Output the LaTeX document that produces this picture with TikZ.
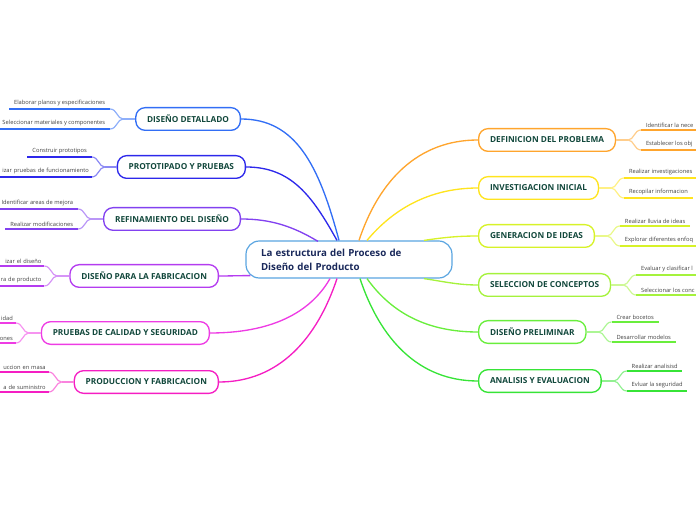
\documentclass[tikz,border=0pt]{standalone}
\usepackage{fontspec}
\setmainfont{Open Sans}
\usepackage{tikz}
\usetikzlibrary{calc}
\definecolor{cborde}{RGB}{90,165,225}
\definecolor{ctexto}{RGB}{18,72,60}
\definecolor{ccentro}{RGB}{25,40,90}
\definecolor{cnaranja}{RGB}{255,165,45}
\definecolor{camarillo}{RGB}{255,228,30}
\definecolor{clima}{RGB}{215,242,40}
\definecolor{cverdea}{RGB}{165,242,60}
\definecolor{cverdeb}{RGB}{105,238,60}
\definecolor{cverdec}{RGB}{55,228,55}
\definecolor{cazul}{RGB}{50,110,245}
\definecolor{cindigo}{RGB}{45,40,235}
\definecolor{cvioleta}{RGB}{130,65,240}
\definecolor{cmorado}{RGB}{180,60,240}
\definecolor{cmagenta}{RGB}{238,60,228}
\definecolor{crosa}{RGB}{245,30,195}

\begin{document}
\begin{tikzpicture}[x=0.75pt,y=-0.75pt,
  centro/.style={draw=cborde,line width=0.9pt,rounded corners=10pt,fill=white,
    minimum height=27.75pt,inner xsep=11.25pt,text width=132pt,align=left,
    font=\bfseries\fontsize{7.3}{10.5}\selectfont,text=ccentro},
  tema/.style={draw=#1,line width=1pt,rounded corners=7pt,fill=white,
    minimum height=17pt,inner xsep=8.5pt,
    font=\bfseries\fontsize{6.2}{7.5}\selectfont,text=ctexto},
  sub/.style={inner xsep=3.5pt,inner ysep=1.9pt,
    font=\fontsize{4.3}{5.2}\selectfont,text=black!75},
  corte/.style={sub,inner xsep=2pt,text width=80pt,align=right},
  rama/.style={draw=#1,line width=1pt},
  tallo/.style={draw=#1!55,line width=0.9pt},
  raya/.style={draw=#1,line width=1.4pt}]
  \useasboundingbox (0,0) rectangle (696,520);

  % central topic
  \node[centro] (ctr) at (349,259.5) {La estructura del Proceso de\\Diseño del Producto};

  % right topics
  \node[tema=cnaranja,anchor=west] (def) at (478,140) {DEFINICION DEL PROBLEMA};
  \node[tema=camarillo,anchor=west] (inv) at (478,188) {INVESTIGACION INICIAL};
  \node[tema=clima,anchor=west] (gen) at (478,236) {GENERACION DE IDEAS};
  \node[tema=cverdea,anchor=west] (sel) at (478,285) {SELECCION DE CONCEPTOS};
  \node[tema=cverdeb,anchor=west] (pre) at (478,332) {DISEÑO PRELIMINAR};
  \node[tema=cverdec,anchor=west] (ana) at (478,381) {ANALISIS Y EVALUACION};

  % left topics
  \node[tema=cazul,anchor=east] (det) at (241,119) {DISEÑO DETALLADO};
  \node[tema=cindigo,anchor=east] (pro) at (246,167) {PROTOTIPADO Y PRUEBAS};
  \node[tema=cvioleta,anchor=east] (ref) at (241,219) {REFINAMIENTO DEL DISEÑO};
  \node[tema=cmorado,anchor=east] (fab) at (219,276) {DISEÑO PARA LA FABRICACION};
  \node[tema=cmagenta,anchor=east] (cal) at (210,333) {PRUEBAS DE CALIDAD Y SEGURIDAD};
  \node[tema=crosa,anchor=east] (prd) at (219,382) {PRODUCCION Y FABRICACION};

  % connectors from the central topic
  \draw[rama=cnaranja] ($(ctr.north)+(10,0)$) .. controls +(20,-60) and +(-60,0) .. (def.west);
  \draw[rama=camarillo] ($(ctr.north)+(18,0)$) .. controls +(25,-30) and +(-50,0) .. (inv.west);
  \draw[rama=clima] ($(ctr.north)+(75,0)$) .. controls +(20,-3) and +(-20,0) .. (gen.west);
  \draw[rama=cverdea] ($(ctr.south)+(75,0)$) .. controls +(20,3) and +(-20,0) .. (sel.west);
  \draw[rama=cverdeb] ($(ctr.south)+(18,0)$) .. controls +(25,35) and +(-50,0) .. (pre.west);
  \draw[rama=cverdec] ($(ctr.south)+(11,0)$) .. controls +(20,60) and +(-60,0) .. (ana.west);
  \draw[rama=cazul] ($(ctr.north)+(-10,0)$) .. controls +(-20,-75) and +(55,0) .. (det.east);
  \draw[rama=cindigo] ($(ctr.north)+(-12,0)$) .. controls +(-25,-45) and +(45,0) .. (pro.east);
  \draw[rama=cvioleta] ($(ctr.north)+(-31,1)$) .. controls +(-25,-15) and +(30,0) .. (ref.east);
  \draw[rama=cmorado] ($(ctr.south west)+(5,-3)$) .. controls +(-10,0) and +(10,0) .. (fab.east);
  \draw[rama=cmagenta] ($(ctr.south)+(-19,0)$) .. controls +(-20,35) and +(60,0) .. (cal.east);
  \draw[rama=crosa] ($(ctr.south)+(-12,0)$) .. controls +(-20,60) and +(60,0) .. (prd.east);

  % right subtopics
  \foreach \n/\c/\ta/\tb in {def/cnaranja/Identificar la nece/Establecer los obj,
      inv/camarillo/Realizar investigaciones/Recopilar informacion,
      gen/clima/Realizar lluvia de ideas/Explorar diferentes enfoq,
      sel/cverdea/Evaluar y clasificar l/Seleccionar los conc,
      pre/cverdeb/Crear bocetos/Desarrollar modelos,
      ana/cverdec/Realizar analisisd/Evluar la seguridad}{
    \draw[tallo=\c] (\n.east) -- ++(12,0) coordinate (\n-j);
    \node[sub,anchor=south west] (\n-a) at ($(\n-j)+(13,-10)$) {\ta};
    \node[sub,anchor=south west] (\n-b) at ($(\n-j)+(13,10)$) {\tb};
    \draw[tallo=\c] (\n-j) .. controls +(6,0) and +(-7,0) .. (\n-a.south west);
    \draw[tallo=\c] (\n-j) .. controls +(6,0) and +(-7,0) .. (\n-b.south west);
    \draw[raya=\c] (\n-a.south west) -- (\n-a.south east);
    \draw[raya=\c] (\n-b.south west) -- (\n-b.south east);
  }

  % left subtopics (corte = text cut by the left edge)
  \foreach \n/\c/\sa/\ta/\sb/\tb in {det/cazul/sub/Elaborar planos y especificaciones/sub/Seleccionar materiales y componentes,
      pro/cindigo/sub/Construir prototipos/corte/izar pruebas de funcionamiento,
      ref/cvioleta/sub/Identificar areas de mejora/sub/Realizar modificaciones,
      fab/cmorado/corte/izar el diseño/corte/ra de producto,
      cal/cmagenta/corte/idad/corte/ones,
      prd/crosa/corte/uccion en masa/corte/a de suministro}{
    \draw[tallo=\c] (\n.west) -- ++(-12,0) coordinate (\n-j);
    \node[\sa,anchor=south east] (\n-a) at ($(\n-j)+(-13,-10)$) {\ta};
    \node[\sb,anchor=south east] (\n-b) at ($(\n-j)+(-13,10)$) {\tb};
    \draw[tallo=\c] (\n-j) .. controls +(-6,0) and +(7,0) .. (\n-a.south east);
    \draw[tallo=\c] (\n-j) .. controls +(-6,0) and +(7,0) .. (\n-b.south east);
    \draw[raya=\c] (\n-a.south west) -- (\n-a.south east);
    \draw[raya=\c] (\n-b.south west) -- (\n-b.south east);
  }
\end{tikzpicture}
\end{document}
